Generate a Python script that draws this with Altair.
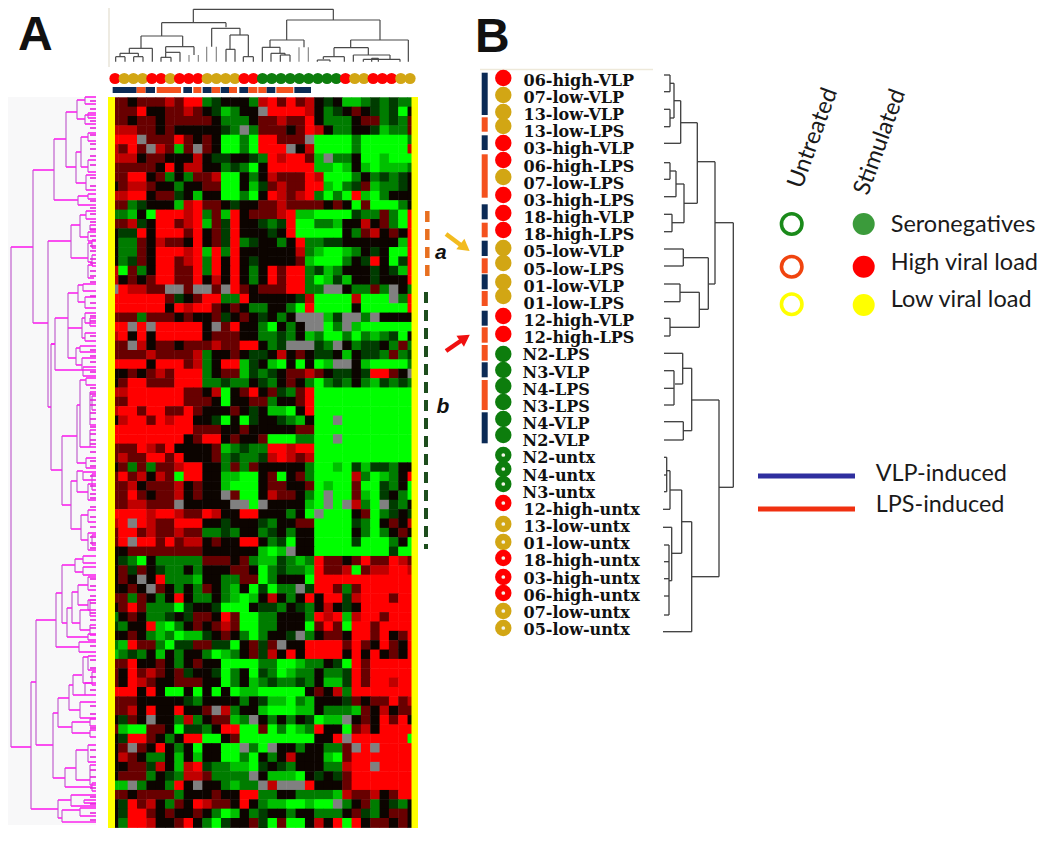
import altair as alt
import pandas as pd

# ---------- heat map: one string per row (2 source rows), 33 columns ----------
HEAT_COLORS = {"R": "#ff0000", "r": "#c00000", "d": "#680000", "k": "#0c0400", "e": "#003c00",
               "g": "#007c00", "h": "#00c000", "G": "#00ff00", "x": "#808080"}
heat_rows = [
 "d dkdd drdR Rgek kkgr RdRd rkek hhge gegg",
 "d ddRk kddr dkeh gkkx RRRR rkge kdke geGk",
 "d dkdd kddd ddkg ggkd drdd Rkgg gkdd gegd",
 "r rrdd kdkk kkke gxgd ddkd Rrkg gkke hggd",
 "R RRxd ddRd kdkG GgGR Rddd xGGG GgGG GGGg",
 "r dRdx rdhd xdkG GgGR RRxk rGGG GgGG GGGr",
 "r rrkd dkkk rkee kkeg RrRR dhxg gkGG hGGG",
 "d dddd kRkr rkkg egGk RRRR RhhG hkhG hhhg",
 "d dRRk dgkg ddrG Gkgk rddd RrGG Ggkg egek",
 "k drrd kkgk kddG Gkhe drdd RRhG gedh ggek",
 "r rRRk ddek hkkG GgGk Rrdr RgGg GRhG gkkk",
 "d dgek kkhr Rddk ekkd drdd ddkd kGdG GGgk",
 "g ghkG RRRr Rgdh Rkdd drRh hGGG Gegg dgGR",
 "d drek RRdr Rhde Rkke geRG Gggh kkrk dgGR",
 "k eeRk RRRd Rkde Rkkk ekRG GGGG kgdr kdkR",
 "k ggdk rddk Rkde Rgek kgkR ggee kkkk kkhR",
 "k ggdk RRRr RhRg Rkkk kkkr ghGG hgke kGGR",
 "k gedk RRdr RgRk Rkek kkkd hGGG gkeR kGeR",
 "r Gdgk RRdd RgRk Rkgk RdRR gehg kkke kehR",
 "r kdkd RRdd Rkrk Rkgk RdRR gGhe hkke kkkR",
 "x Rrrd dxxd xxdx Rdkd ddRR ggxx kggd gxkg",
 "R RRRR Rdek dRRg gRkk kkke rGGG GrGG GxgR",
 "R RRRR RkRr RRdk dkgg kkgG RGGG GkGG GGGR",
 "d ddgd ddkd kkde kdke kgkx xxhe xxgx kkkk",
 "R RxRx RRRR Rkxd Rkkg Gkgk xxGg xhGG GGGG",
 "r RkRk RRRR Rkdd dkkg gegk hgGG gGgh geGk",
 "d dxrk ddkd ddrd dRRk gexx xegx kgee kgdg",
 "d dddr dddd rgkk dkee krkd keek hkee gdge",
 "R RRRk RRRd rgkR Rhek hGkG kGhx xkhG GGGg",
 "k kdkd rdRR Rgkd dheg ekdd rdke ekeR Rdkx",
 "k dRRd ddRR Rgge ggke gkdk gGge gkgh egeg",
 "r rRRR RRRd dkrG kdRk degd RGGG GGGG GGGG",
 "d dRRR RRRd ddkG kkdd gkkd RGGG GGGG GGGG",
 "r RRdR RddR dkkk dkek hhGk RGGG GGGG GGGG",
 "k rRRd RrRR kkeG kGek kegh kGGx GGGG GGGG",
 "R RRRR RRRR dddk kdkk kkkd dGGG GGGG GGGG",
 "R RRRR RRRk dRRk dkkd GGGg gGGx GGGG GGGG",
 "d ddRr dRkk kkdh gegg RRrR RGGG GGGG GGGG",
 "d rddR RdRk kkdg egge rRrd rGGG GGGG GGGG",
 "k dgdg ddrR Rkkg dgdk kkkk gGGh Gehe egkk",
 "d Rdrk rdGR Rkkh hGGk dGkd gGGG GrgG hgkR",
 "d drkd ddrk dkkh GGGk ddkk dGhG GdGG egkG",
 "d dRdk ddrk dkkx dGGk rddk gGxG GdhG ekgG",
 "d drrd ddxk kkkk xxGx kkkk hGxG xrgG xegk",
 "R RRRr RRrd dRrk kRRk kkgk GxGG GkdG geke",
 "r RxRr ddRR Rkke kkke gkkd dGGG GegG kdkr",
 "d RRdr ddrd dgge gkkg ekgk kGGG GkgG gkdk",
 "d RxRR dRdr rkdk kRRk geGk kGGG GeGG GgkG",
 "k kddd dddd dkkk kkkh Ghxk kGGG GGGG GeGG",
 "k egGk gggg gddd kdgh hegh gRdd kdRd dRrd",
 "k dedk eggk gkkk ddkG gegg hRdd rGdr rRRr",
 "k dkxk Rggg hkkg gddG gkkk GRRR RRRR RRRR",
 "k kdkx dkgk gdkg hkGe Gggx eRRd gdRR RRRR",
 "d dgdk gkRk ggkg hGhk rkgk RkRR erRR RdRR",
 "k dRdg ggGe kkeG GGke egke gkrk ekRR RRRR",
 "g kdkg geke ddkR dGGg gkkk gRrR hrRR dRRR",
 "e gkkR hGgk dkdr dGGg gkkk GdRd GRRd RRRR",
 "k kdkg hgGh hekd kgGg kkex gkdd kRRd RkdR",
 "g hRdd gGee ddee Gkde dxkk RRRR dRdk RdkR",
 "h gegk hkgk kgGh gkde rkRk RRRR kRkR kdkR",
 "d dRkk dkgk dkkG GGGg gGGh ggke GRdR RRRR",
 "d kRdr dkde kkeG gkGe gGhg gkgg eRdR RRRR",
 "d kRrd kkdd dkkG gkhg egge gkhh eRdR RrRR",
 "R RRkR kGGk GkGk GhhG GGGG kdkr gRRR RRRR",
 "d ddkk kkke gkkk kgke hhGg hkkk edkd dRdr",
 "d drkR kkRk kdxr gkkh GGGh hkgg ghdk rkdd",
 "k edkx kkgr gkdd hgxk gkgk eGhh xkdk RdRk",
 "d hGGd dkGe egkR RGGd GgGh gRkk Gdrk RRRR",
 "k eRRd kgkR RGGk dGGG GGGG GkkR xRRR RRRG",
 "k dxdk Rkgk GkkG GxgG xkkg kkgg dxRx RRRR",
 "k rdkg gkhk hkkG GgGk gkrk kkhG dRRR RRRR",
 "k kdde rkhr Regg hhGe kegk kkgg rRRx RRRR",
 "k dddg kegr rdgg ggxk hhhG keke dRRR RRRR",
 "h hxgk kgRk xkkg hggx rxxx Rkkk dRRR RRRR",
 "d dkdd ddgk kkdk kRRg gkkg gggh rddr kdRR",
 "k eRdr kgdk Rrdd kRkg hhGG hGGx gkdg kegk",
 "k eRRd kdkk dkgG hkge kkgk kggg kdeg kddk",
 "k gRRr kkdR kgGe kkde GdGG krkR GRkd dkdk",
]
HEAT_LEFT, HEAT_TOP, CELL_W, CELL_H = 109.0, 97.3, 9.33, 9.36

# ---------- column annotation ----------
RED, GOLD, GREEN, NAVY, ORANGE = "#ff0000", "#d2a614", "#0d7d0d", "#0b2a55", "#f4511e"
top_dot_colors = [RED, GOLD, GOLD, GOLD, RED, RED, GOLD, RED, RED, RED, GOLD, GOLD, GOLD, GOLD, RED, RED,
                  GREEN, GREEN, GREEN, GREEN, GREEN, GREEN, GREEN, GREEN, GREEN, RED, GOLD, GOLD,
                  RED, RED, RED, GOLD, GOLD]
top_bar_spans = [(38, 110, NAVY), (110, 137, ORANGE), (137, 165, NAVY), (170, 243, ORANGE), (250, 276, NAVY),
                 (280, 304, ORANGE), (308, 335, NAVY), (335, 360, ORANGE), (362, 387, NAVY), (387, 411, ORANGE),
                 (418, 445, NAVY), (445, 472, ORANGE), (475, 500, ORANGE), (500, 526, NAVY),
                 (529, 580, ORANGE), (583, 633, NAVY)]

# ---------- top dendrogram (left x, right x, height, left foot, right foot) ----------
top_tree = [
 (280,700,28,68,60),(185,378,68,108,82),(123,248,108,145,140),(88,157,145,160,185),(60,115,160,170,170),
 (47,75,170,185,185),(101,129,170,185,185),(197,282,140,157,165),(197,240,157,172,185),(183,213,172,185,185),
 (335,420,85,140,105),(390,445,105,148,170),(378,405,148,185,185),(430,460,170,185,185),
 (560,840,60,120,120),(510,612,120,142,142),(487,540,142,185,160),(513,555,160,185,165),(541,570,165,185,185),
 (752,925,120,143,185),(702,805,143,170,165),(670,733,170,178,185),(652,690,180,185,185),(760,870,165,185,178),
 (790,900,178,185,185),(815,835,175,185,185),
]
top_stems = [(267,165,185),(295,165,185),(320,140,185),(349,140,185),(597,142,185),(625,142,185)]

# ---------- left dendrogram (x, top y, bottom y, top end, bottom end) ----------
left_tree = [
 (11,247,747,33,31),(33,170,323,54,48),(54,139,200,66,78),(66,112,167,77,76),(77,100,119,85,85),
 (85,97,104,96,96),(85,115,124,96,96),(88,113,118,96,96),(76,152,183,81,86),(81,137,167,88,88),
 (88,133,141,96,96),(88,160,172,96,96),(86,175,190,96,96),(78,196,205,88,96),(88,194,199,96,96),
 (48,241,407,71,51),(71,225,258,80,88),(80,215,237,86,88),(86,211,219,96,96),(88,232,241,96,96),
 (90,225,230,96,96),(88,243,262,92,92),(92,240,248,96,96),(92,255,266,96,96),(88,265,278,93,94),
 (68,293,358,78,76),(78,285,302,83,85),(83,284,291,96,96),(85,297,308,96,96),(82,318,338,85,85),
 (85,313,323,96,96),(85,333,341,96,96),(90,318,326,96,96),(76,348,365,80,82),(80,346,352,96,96),
 (82,358,370,96,96),(55,318,370,68,83),(83,367,376,96,96),(51,344,470,55,62),(62,436,505,77,71),
 (77,405,463,80,86),(80,380,447,86,90),(86,378,385,96,96),(90,392,425,96,96),(92,396,410,96,96),
 (90,430,447,96,96),(86,458,468,96,96),(71,481,529,77,81),(77,471,492,83,88),(83,472,480,96,96),
 (88,484,500,96,96),(92,474,490,96,96),(81,515,540,88,88),(88,510,522,96,96),(88,533,550,96,96),
 (92,535,545,96,96),(31,682,809,36,58),(36,620,745,56,53),(56,593,647,62,79),(62,565,623,75,67),
 (75,559,572,83,83),(83,556,563,96,96),(83,567,575,96,96),(67,608,637,72,88),(72,592,623,78,80),
 (78,585,605,88,88),(88,577,590,96,96),(88,600,610,96,96),(80,610,630,90,90),(90,600,616,96,96),
 (90,625,635,96,96),(88,634,640,96,96),(79,642,652,96,96),(53,713,778,58,65),(58,698,727,69,72),
 (69,685,710,73,80),(73,675,695,82,85),(83,657,683,88,92),(88,656,670,96,96),(92,672,685,96,96),
 (85,683,695,96,96),(80,702,718,96,96),(72,722,733,90,90),(90,719,726,96,96),(90,730,737,96,96),
 (65,768,787,76,92),(76,750,780,88,90),(88,745,762,96,96),(90,765,785,96,96),(92,783,791,96,96),
 (58,800,818,71,62),(71,795,806,96,96),(62,810,822,80,96),(80,808,816,96,96),(84,800,803,96,96),
]
left_links = [(328,68,82),(344,51,55)]
left_leaf_y = [101,109,121,128,135,144,149,156,165,178,186,201,208,214,222,229,236,246,251,259,263,271,276,282,
               296,303,316,321,336,350,356,362,372,388,394,400,405,413,419,427,434,440,444,452,461,466,476,486,
               494,498,507,517,527,537,543,548,579,586,596,603,613,620,628,646,660,668,677,690,706,714,728,750,
               757,770,777,788,797,804,813,820]

# ---------- panel B ----------
sample_labels = ["06-high-VLP","07-low-VLP","13-low-VLP","13-low-LPS","03-high-VLP","06-high-LPS","07-low-LPS",
                 "03-high-LPS","18-high-VLP","18-high-LPS","05-low-VLP","05-low-LPS","01-low-VLP","01-low-LPS",
                 "12-high-VLP","12-high-LPS","N2-LPS","N3-VLP","N4-LPS","N3-LPS","N4-VLP","N2-VLP","N2-untx",
                 "N4-untx","N3-untx","12-high-untx","13-low-untx","01-low-untx","18-high-untx","03-high-untx",
                 "06-high-untx","07-low-untx","05-low-untx"]
label_y = [80.7 + 17.17 * i for i in range(len(sample_labels))]
dot_y = [78,95,112,126,143,160,177,195,213,230,248,263,282,296,316,334,
         354,370,386,402,419,435,455,469,484,503,524,542,558,577,593,611,628]
side_bar_spans = [(72.7,115,NAVY),(117.3,131.7,ORANGE),(135.3,150,NAVY),(154.3,197.7,ORANGE),(204.3,219.3,NAVY),
                  (222.7,237.3,ORANGE),(240.7,256,NAVY),(258.3,273.3,ORANGE),(274.3,289.3,NAVY),(291,306,ORANGE),
                  (310.7,325.7,NAVY),(327.3,342.7,ORANGE),(345,360.7,ORANGE),(362.3,377.3,NAVY),
                  (380,410,ORANGE),(412.3,443.3,NAVY)]
# vertical x, top y, bottom y, left end of top arm, left end of bottom arm
right_tree = [
 (670,75,91.7,664,664),(670,109.3,126.7,664,664),(674,83.3,118,670,670),(680.7,100.7,143.3,674,664),
 (670,162.7,179.3,664,664),(676,171,196.7,670,664),(684,184,222.7,676,672),(672,214.3,231.7,664,664),
 (697.3,122.7,203.3,680.7,684),(683.3,249,266,664,664),(680,284,301.7,664,664),(670,318.3,336,664,664),
 (699.3,292.3,327.3,680,670),(708.3,257.7,309.3,683.3,699.3),(715,161.7,284,697.3,708.3),
 (733.3,222.7,487.3,715,719),(682.7,353.3,384,664,675),(674,370.7,405,664,664),(691.7,368.3,430.7,682.7,683.3),
 (683.3,421.7,440,664,664),(719,400,576.7,691.7,691.7),(691.7,521.7,631.7,681.7,663),
 (681.7,490,553.3,670,671.7),(670,470.7,509.3,666.7,663),(666.7,457.3,491.7,664,664),
 (671.7,527.3,580.7,663,669),(669,545,615,664,664),
]
right_tree_leaves = [(388.3,664,674),(475,664,666.7),(561.7,664,669),(578.7,664,669),(596,664,669)]

legend_open = [(791.7,224,"#1a8a1a"),(791.7,266.7,"#f0440f"),(791.7,304.3,"#ffff00")]
legend_full = [(863.7,224,"#3b9b3b"),(863.7,266.7,"#ff0000"),(863.7,305,"#ffff00")]
legend_names = [("Seronegatives",890.7,225),("High viral load",890.7,263),("Low viral load",890.7,300)]
line_legend = [("VLP-induced",476,474,"#2f2f9f"),("LPS-induced",509,505,"#f03010")]

# ---------- scales ----------
xs = alt.Scale(domain=[8, 1042], nice=False, zero=False)
ys = alt.Scale(domain=[835, 8], nice=False, zero=False)
X = lambda f="x": alt.X(f"{f}:Q", scale=xs, axis=None)
Y = lambda f="y": alt.Y(f"{f}:Q", scale=ys, axis=None)
X2 = alt.X2("x2:Q")
Y2 = alt.Y2("y2:Q")
C = alt.Color("c:N", scale=None)

def rects(rows, **kw):
    df = pd.DataFrame(rows, columns=["x", "x2", "y", "y2", "c"])
    return alt.Chart(df).mark_rect(**kw).encode(x=X(), x2=X2, y=Y(), y2=Y2, color=C)

def segs(rows, width, opacity=1.0, **kw):
    df = pd.DataFrame(rows, columns=["x", "x2", "y", "y2", "c"])
    return alt.Chart(df).mark_rule(strokeWidth=width, opacity=opacity, **kw).encode(
        x=X(), x2=X2, y=Y(), y2=Y2, color=C)

def dots(rows, size):
    df = pd.DataFrame(rows, columns=["x", "y", "c"])
    return alt.Chart(df).mark_circle(size=size, opacity=1).encode(x=X(), y=Y(), color=C)

def texts(rows, **kw):
    df = pd.DataFrame(rows, columns=["t", "x", "y"])
    return alt.Chart(df).mark_text(align="left", baseline="middle", **kw).encode(x=X(), y=Y(), text="t:N")

layers = []

# left panel background, heat map, yellow side bars
layers.append(rects([(8, 96, 97, 825, "#f8f8f9")]))
heat = []
for r, row in enumerate(heat_rows):
    for c, ch in enumerate(row.replace(" ", "")):
        heat.append((HEAT_LEFT + c * CELL_W, HEAT_LEFT + (c + 1) * CELL_W + 0.5,
                     HEAT_TOP + r * CELL_H, HEAT_TOP + (r + 1) * CELL_H + 0.5, HEAT_COLORS[ch]))
layers.append(rects(heat))
layers.append(rects([(108, 115, 97, 828, "#ffff00"), (411.5, 418, 97, 828, "#ffff00")]))

# top dendrogram
tz = lambda v: 100 + v / 3
yz = lambda v: v / 3
seg = []
for a, b, h, f1, f2 in top_tree:
    seg.append((tz(a), tz(b), yz(h), yz(h), "#484848"))
    seg.append((tz(a), tz(a), yz(h), yz(f1), "#484848"))
    seg.append((tz(b), tz(b), yz(h), yz(f2), "#484848"))
for a, h, f in top_stems:
    seg.append((tz(a), tz(a), yz(h), yz(f), "#888888"))
layers.append(segs(seg, 1.2))
layers.append(segs([(109, 109, 5, 67, "#e8e4d8"), (480, 653, 69.5, 69.5, "#eee9da")], 1.5))

# top annotation
layers.append(dots([(tz(45 + 27.66 * i), 78.5, col) for i, col in enumerate(top_dot_colors)], 125))
layers.append(rects([(tz(a), tz(b), 87, 93, col) for a, b, col in top_bar_spans]))

# left dendrogram
vert, horz = [], []
for x, y1, y2, e1, e2 in left_tree:
    vert.append((x, x, y1, y2, "#cc7fd6"))
    horz.append((x, e1, y1, y1, "#fb24ee"))
    horz.append((x, e2, y2, y2, "#fb24ee"))
for y, a, b in left_links:
    horz.append((a, b, y, y, "#fb24ee"))
for y in left_leaf_y:
    horz.append((90, 96, y, y, "#e81fdc"))
layers.append(segs(vert, 1.5))
layers.append(segs(horz, 1.6))

# dashed cluster marks and their letters
layers.append(alt.Chart(pd.DataFrame([(427.3, 211, 277, "#e87020")], columns=["x", "y", "y2", "c"]))
              .mark_rule(strokeWidth=4.5, strokeDash=[11, 7]).encode(x=X(), y=Y(), y2=Y2, color=C))
layers.append(alt.Chart(pd.DataFrame([(426, 292, 549, "#1d4d1d")], columns=["x", "y", "y2", "c"]))
              .mark_rule(strokeWidth=4, strokeDash=[11, 7]).encode(x=X(), y=Y(), y2=Y2, color=C))
layers.append(texts([("a", 435, 253), ("b", 436.5, 407)], font="Liberation Sans", fontSize=21,
                    fontStyle="italic", fontWeight="bold", color="#111111"))

# arrows
layers.append(segs([(446, 462, 234, 246, "#f2bb1f"), (446, 462, 351, 340, "#f01010")], 4.5))
arrow_y = pd.DataFrame([(465, 247.5, "#f2bb1f")], columns=["x", "y", "c"])
arrow_r = pd.DataFrame([(465, 338, "#f01010")], columns=["x", "y", "c"])
layers.append(alt.Chart(arrow_y).mark_point(shape="triangle-up", filled=True, size=180, opacity=1, angle=127)
              .encode(x=X(), y=Y(), color=C))
layers.append(alt.Chart(arrow_r).mark_point(shape="triangle-up", filled=True, size=180, opacity=1, angle=56)
              .encode(x=X(), y=Y(), color=C))

# panel B
layers.append(rects([(481.7, 487.7, a, b, col) for a, b, col in side_bar_spans]))
def sample_color(name):
    return GREEN if name.startswith("N") else RED if "high" in name else GOLD
layers.append(dots([(503.3, yy, sample_color(n)) for n, yy in zip(sample_labels, dot_y)], 270))
layers.append(dots([(503.3, yy, "#f4f4e8") for n, yy in zip(sample_labels, dot_y) if n.endswith("untx")], 14))
layers.append(texts([(n, 523.5 - (1 if n.startswith("N") else 0), yy) for n, yy in zip(sample_labels, label_y)],
                    font="DejaVu Serif", fontSize=16, fontWeight="bold", color="#111111"))

seg = []
for x, y1, y2, e1, e2 in right_tree:
    seg.append((x, x, y1, y2, "#3c3c3c"))
    seg.append((e1, x, y1, y1, "#3c3c3c"))
    seg.append((e2, x, y2, y2, "#3c3c3c"))
for y, a, b in right_tree_leaves:
    seg.append((a, b, y, y, "#3c3c3c"))
layers.append(segs(seg, 1.3))

# legends
for x, y, col in legend_open:
    layers.append(alt.Chart(pd.DataFrame([(x, y, col)], columns=["x", "y", "c"]))
                  .mark_point(shape="circle", filled=False, size=420, strokeWidth=3.6, opacity=1)
                  .encode(x=X(), y=Y(), color=C))
layers.append(dots(legend_full, 484))
layers.append(texts(legend_names, font="Lato", fontSize=23.5, color="#1a1a1a"))
layers.append(alt.Chart(pd.DataFrame([("Untreated", 813, 138)], columns=["t", "x", "y"]))
              .mark_text(font="Lato", fontSize=23.5, angle=290, color="#1a1a1a",
                         align="center", baseline="middle").encode(x=X(), y=Y(), text="t:N"))
layers.append(alt.Chart(pd.DataFrame([("Stimulated", 880, 142)], columns=["t", "x", "y"]))
              .mark_text(font="Lato", fontSize=23.5, angle=290, color="#1a1a1a",
                         align="center", baseline="middle").encode(x=X(), y=Y(), text="t:N"))
layers.append(segs([(758, 855, y, y, col) for _, y, _, col in line_legend], 5))
layers.append(texts([(n, 875.7, ty) for n, _, ty, _ in line_legend], font="Lato", fontSize=23.4, color="#1a1a1a"))

# panel letters
layers.append(texts([("A", 18, 36), ("B", 475, 38)], font="Liberation Sans", fontSize=48, fontWeight="bold",
                    color="#111111"))

chart = (alt.layer(*layers)
         .properties(width=1034, height=827, padding=0, autosize=alt.AutoSizeParams(type="none"),
                     background="#ffffff")
         .configure_view(stroke=None))
chart.save("out.html", embed_options={"renderer": "svg", "actions": False})
